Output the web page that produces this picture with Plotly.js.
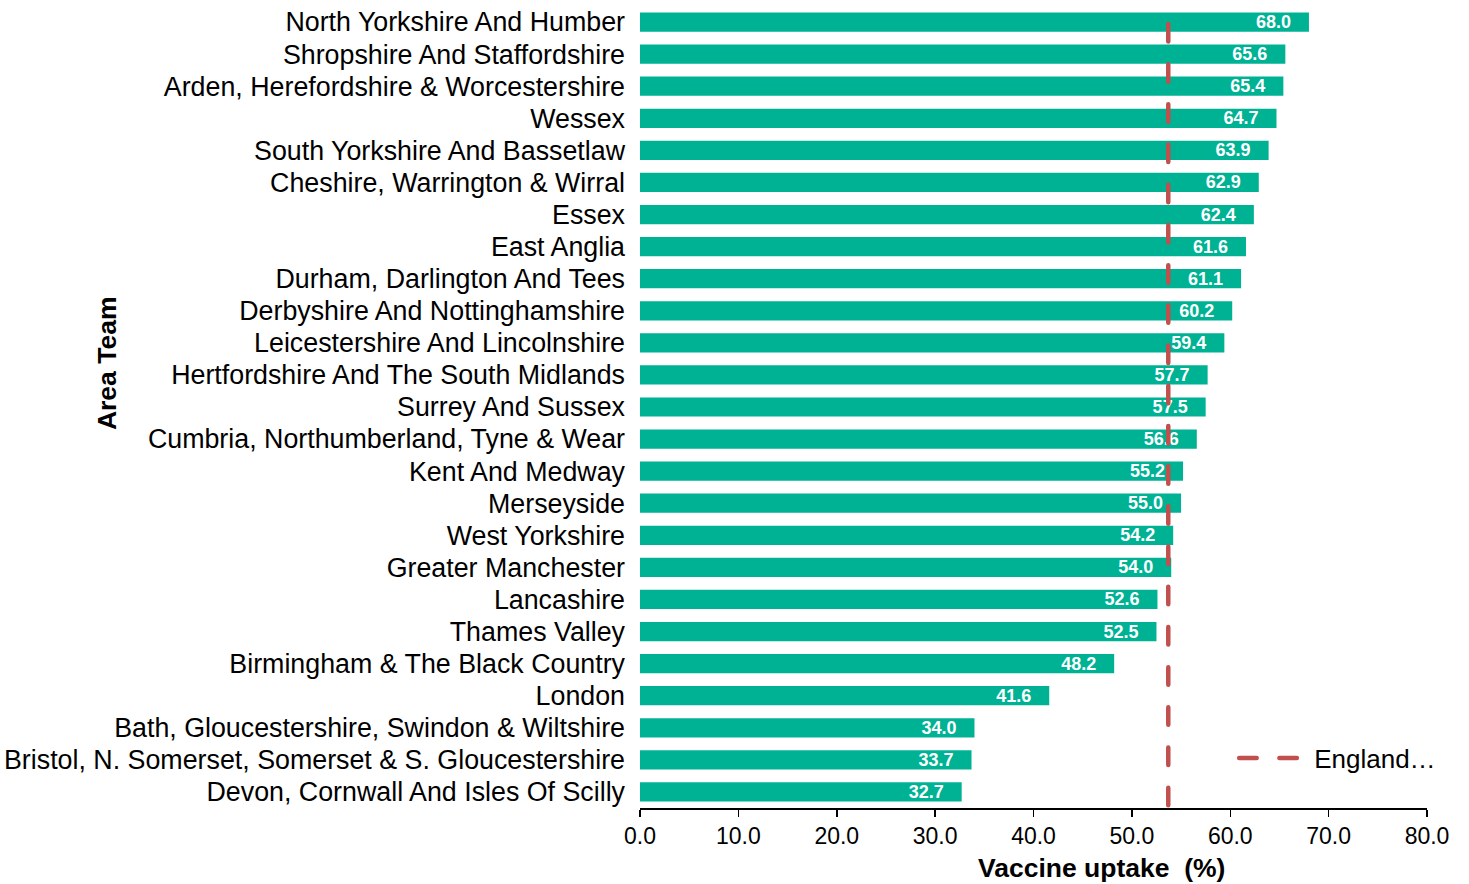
<!DOCTYPE html>
<html>
<head>
<meta charset="utf-8">
<script src="https://cdn.plot.ly/plotly-3.0.1.min.js"></script>
<style>
  html, body { margin: 0; padding: 0; background: #fff; }
  #chart { width: 1469px; height: 884px; }
  .scatterlayer .js-line, .legendlines path { stroke-linecap: round; }
</style>
</head>
<body>
<div id="chart"></div>
<script>
// Area teams, listed top to bottom
const areaTeams = [
  "North Yorkshire And Humber",
  "Shropshire And Staffordshire",
  "Arden, Herefordshire & Worcestershire",
  "Wessex",
  "South Yorkshire And Bassetlaw",
  "Cheshire, Warrington & Wirral",
  "Essex",
  "East Anglia",
  "Durham, Darlington And Tees",
  "Derbyshire And Nottinghamshire",
  "Leicestershire And Lincolnshire",
  "Hertfordshire And The South Midlands",
  "Surrey And Sussex",
  "Cumbria, Northumberland, Tyne & Wear",
  "Kent And Medway",
  "Merseyside",
  "West Yorkshire",
  "Greater Manchester",
  "Lancashire",
  "Thames Valley",
  "Birmingham & The Black Country",
  "London",
  "Bath, Gloucestershire, Swindon & Wiltshire",
  "Bristol, N. Somerset, Somerset & S. Gloucestershire",
  "Devon, Cornwall And Isles Of Scilly"
];

// Vaccine uptake (%) per area team
const uptake = [
  68.0, 65.6, 65.4, 64.7, 63.9, 62.9, 62.4, 61.6, 61.1, 60.2,
  59.4, 57.7, 57.5, 56.6, 55.2, 55.0, 54.2, 54.0, 52.6, 52.5,
  48.2, 41.6, 34.0, 33.7, 32.7
];

// National reference value
const englandName = "England…";
const englandUptake = 53.7;

// Axis ticks
const xTickVals = [0, 10, 20, 30, 40, 50, 60, 70, 80];
const xTickText = xTickVals.map(v => v.toFixed(1));

const FONT = "Liberation Sans, Arial, sans-serif";
const NBSP = "\u00a0";

const bars = {
  type: "bar",
  orientation: "h",
  y: areaTeams,
  x: uptake,
  marker: { color: "#00B294", line: { width: 0 } },
  text: uptake.map(v => v.toFixed(1) + NBSP + NBSP + NBSP),
  textposition: "inside",
  insidetextanchor: "end",
  textangle: 0,
  textfont: { family: FONT, size: 18, color: "#ffffff", weight: "bold" },
  hoverinfo: "x+y",
  showlegend: false,
  cliponaxis: false
};

const england = {
  type: "scatter",
  mode: "lines",
  name: englandName,
  x: [englandUptake, englandUptake],
  y: [0.9776, 0],
  yaxis: "y2",
  line: { color: "#C0504D", width: 4.5, dash: "17.5px,22.7px" },
  showlegend: true,
  cliponaxis: false
};

const layout = {
  width: 1469,
  height: 884,
  margin: { l: 640, r: 42, t: 6, b: 76 },
  paper_bgcolor: "#ffffff",
  plot_bgcolor: "#ffffff",
  font: { family: FONT, color: "#000000" },
  bargap: 0.4,
  uniformtext: { mode: "show", minsize: 18 },
  showlegend: true,
  legend: {
    x: 0.755, xanchor: "left",
    y: 0.0623, yanchor: "middle",
    xref: "paper", yref: "paper",
    bgcolor: "rgba(0,0,0,0)",
    itemwidth: 70,
    font: { family: FONT, size: 26, color: "#000000" }
  },
  xaxis: {
    range: [0, 80],
    tickvals: xTickVals,
    ticktext: xTickText,
    ticks: "outside",
    ticklen: 7,
    tickwidth: 1.5,
    tickcolor: "#000000",
    showline: true,
    linecolor: "#000000",
    linewidth: 1.5,
    showgrid: false,
    zeroline: false,
    tickfont: { family: FONT, size: 23, color: "#000000" },
    fixedrange: true
  },
  yaxis: {
    type: "category",
    autorange: "reversed",
    showline: false,
    ticks: "",
    showgrid: false,
    zeroline: false,
    ticklabelstandoff: 14,
    tickfont: { family: FONT, size: 26.8, color: "#000000" },
    fixedrange: true
  },
  yaxis2: {
    overlaying: "y",
    range: [0, 1],
    visible: false,
    fixedrange: true
  },
  annotations: [
    {
      text: "<b>Area Team</b>",
      xref: "paper", yref: "paper",
      x: -0.677, y: 0.555,
      xanchor: "center", yanchor: "middle",
      textangle: -90,
      showarrow: false,
      font: { family: FONT, size: 26.5, color: "#000000" }
    },
    {
      text: "<b>Vaccine uptake" + NBSP + " (%)</b>",
      xref: "paper", yref: "paper",
      x: 0.586, y: -0.0748,
      xanchor: "center", yanchor: "middle",
      showarrow: false,
      font: { family: FONT, size: 26.5, color: "#000000" }
    }
  ]
};

Plotly.newPlot("chart", [bars, england], layout, { displayModeBar: false, staticPlot: true })
  .then(() => {
    // Longer dashed sample in the legend
    document.querySelectorAll(".legendlines path").forEach(p => p.setAttribute("d", "M5,0h62"));
  });
</script>
</body>
</html>
